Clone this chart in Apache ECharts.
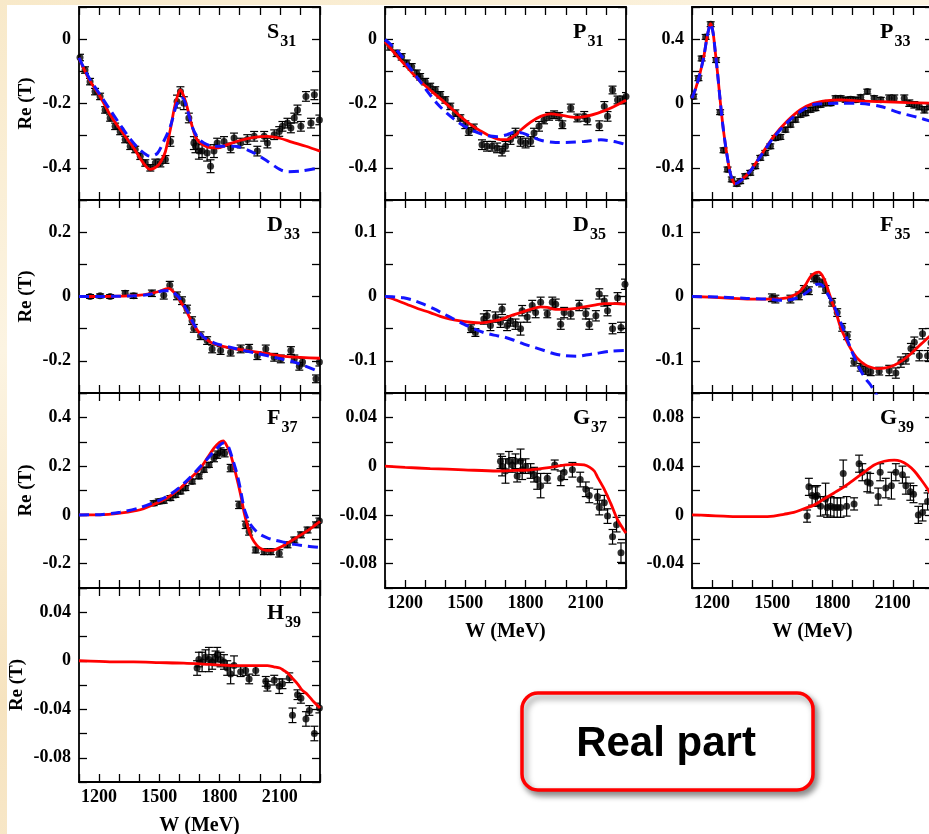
<!DOCTYPE html>
<html><head><meta charset="utf-8">
<script src="https://cdn.jsdelivr.net/npm/echarts@6/dist/echarts.min.js"></script>
<style>
html,body{margin:0;padding:0;}
body{width:929px;height:834px;overflow:hidden;position:relative;
 background:linear-gradient(160deg,#f8e9c9 0%,#fcf4e2 30%,#f6e3bf 60%,#fbf0da 100%);}
#sheet{position:absolute;left:7px;top:5px;right:0;bottom:0;background:#fff;}
#chart{position:absolute;left:0;top:0;width:929px;height:834px;}
</style></head><body><div id="sheet"></div><div id="chart"></div>
<script>
// ---------- tick labels ----------
const xTickLabels = ['1200','1500','1800','2100'];
const s31YLabels = ['0','-0.2','-0.4'];
const p31YLabels = ['0','-0.2','-0.4'];
const p33YLabels = ['0.4','0','-0.4'];
const d33YLabels = ['0.2','0','-0.2'];
const d35YLabels = ['0.1','0','-0.1'];
const f35YLabels = ['0.1','0','-0.1'];
const f37YLabels = ['0.4','0.2','0','-0.2'];
const g37YLabels = ['0.04','0','-0.04','-0.08'];
const g39YLabels = ['0.08','0.04','0','-0.04'];
const h39YLabels = ['0.04','0','-0.04','-0.08'];

// ---------- S31 ----------
const s31Red = [[1100,-0.058],[1150,-0.125],[1205,-0.178],[1255,-0.235],[1305,-0.281],[1372,-0.338],[1420,-0.385],[1455,-0.405],[1490,-0.395],[1510,-0.378],[1530,-0.35],[1555,-0.28],[1580,-0.2],[1605,-0.158],[1622,-0.178],[1640,-0.215],[1663,-0.27],[1688,-0.312],[1738,-0.335],[1788,-0.338],[1838,-0.328],[1900,-0.315],[1972,-0.305],[2038,-0.302],[2100,-0.308],[2160,-0.32],[2230,-0.333],[2300,-0.348]];
const s31Blue = [[1100,-0.058],[1150,-0.12],[1205,-0.173],[1255,-0.22],[1305,-0.266],[1355,-0.31],[1405,-0.345],[1455,-0.364],[1490,-0.355],[1520,-0.32],[1555,-0.271],[1580,-0.215],[1600,-0.185],[1615,-0.183],[1635,-0.21],[1663,-0.271],[1690,-0.305],[1720,-0.322],[1772,-0.333],[1872,-0.333],[1972,-0.354],[2040,-0.38],[2100,-0.405],[2138,-0.412],[2205,-0.41],[2300,-0.4]];
const s31Pts = [[1105,-0.057,0.01],[1130,-0.096,0.01],[1155,-0.132,0.01],[1180,-0.163,0.01],[1205,-0.178,0.01],[1230,-0.22,0.01],[1255,-0.245,0.01],[1280,-0.271,0.01],[1305,-0.287,0.01],[1330,-0.312,0.01],[1355,-0.333,0.01],[1380,-0.343,0.01],[1405,-0.364,0.01],[1430,-0.385,0.01],[1455,-0.4,0.01],[1480,-0.385,0.012],[1505,-0.385,0.012],[1530,-0.374,0.012],[1555,-0.318,0.015],[1588,-0.194,0.02],[1605,-0.163,0.015],[1622,-0.199,0.02],[1647,-0.245,0.015],[1672,-0.323,0.02],[1680,-0.333,0.02],[1697,-0.348,0.025],[1713,-0.348,0.02],[1738,-0.354,0.025],[1755,-0.395,0.02],[1772,-0.348,0.02],[1788,-0.323,0.015],[1822,-0.318,0.015],[1855,-0.338,0.015],[1872,-0.307,0.015],[1905,-0.323,0.015],[1938,-0.312,0.015],[1972,-0.302,0.015],[1988,-0.348,0.015],[2022,-0.302,0.015],[2038,-0.323,0.015],[2072,-0.297,0.015],[2097,-0.287,0.015],[2113,-0.271,0.015],[2138,-0.261,0.015],[2155,-0.276,0.015],[2172,-0.245,0.015],[2188,-0.22,0.015],[2205,-0.271,0.015],[2230,-0.178,0.015],[2255,-0.261,0.015],[2272,-0.173,0.015],[2297,-0.251,0.015]];

// ---------- P31 ----------
const p31Red = [[1100,-0.008],[1150,-0.045],[1208,-0.086],[1265,-0.125],[1325,-0.158],[1375,-0.185],[1425,-0.212],[1475,-0.24],[1525,-0.265],[1575,-0.285],[1625,-0.302],[1675,-0.312],[1710,-0.312],[1745,-0.3],[1775,-0.283],[1825,-0.258],[1875,-0.24],[1925,-0.232],[1990,-0.238],[2050,-0.243],[2100,-0.24],[2160,-0.23],[2225,-0.214],[2300,-0.19]];
const p31Blue = [[1100,-0.001],[1158,-0.034],[1208,-0.075],[1258,-0.117],[1308,-0.16],[1358,-0.199],[1408,-0.23],[1458,-0.255],[1508,-0.275],[1558,-0.29],[1610,-0.3],[1660,-0.303],[1708,-0.297],[1740,-0.29],[1770,-0.29],[1825,-0.302],[1880,-0.315],[1950,-0.321],[2000,-0.321],[2092,-0.318],[2175,-0.313],[2240,-0.318],[2300,-0.328]];
const p31Pts = [[1125,-0.024,0.01],[1158,-0.044,0.01],[1183,-0.055,0.01],[1208,-0.075,0.01],[1233,-0.086,0.01],[1258,-0.106,0.01],[1275,-0.117,0.01],[1300,-0.132,0.01],[1325,-0.147,0.01],[1350,-0.158,0.01],[1375,-0.173,0.01],[1400,-0.189,0.01],[1425,-0.209,0.01],[1450,-0.23,0.01],[1475,-0.245,0.01],[1500,-0.266,0.012],[1517,-0.287,0.012],[1542,-0.276,0.012],[1583,-0.328,0.015],[1608,-0.333,0.015],[1633,-0.333,0.015],[1658,-0.338,0.015],[1683,-0.348,0.015],[1700,-0.333,0.015],[1725,-0.312,0.015],[1750,-0.292,0.015],[1775,-0.318,0.015],[1800,-0.323,0.015],[1825,-0.318,0.015],[1842,-0.292,0.015],[1867,-0.271,0.015],[1892,-0.251,0.012],[1917,-0.24,0.012],[1942,-0.235,0.012],[1967,-0.24,0.012],[1983,-0.266,0.012],[2025,-0.214,0.012],[2058,-0.245,0.012],[2092,-0.24,0.015],[2108,-0.251,0.015],[2167,-0.269,0.015],[2192,-0.209,0.015],[2208,-0.24,0.015],[2233,-0.158,0.012],[2258,-0.189,0.012],[2283,-0.189,0.012],[2300,-0.178,0.012]];

// ---------- P33 ----------
const p33Red = [[1100,0.033],[1120,0.1],[1140,0.188],[1160,0.3],[1173,0.4],[1185,0.47],[1193,0.497],[1205,0.44],[1215,0.332],[1228,0.18],[1240,0.023],[1253,-0.13],[1265,-0.245],[1278,-0.35],[1290,-0.431],[1303,-0.48],[1315,-0.499],[1340,-0.483],[1390,-0.421],[1440,-0.328],[1507,-0.204],[1573,-0.111],[1640,-0.039],[1707,0.002],[1773,0.018],[1840,0.022],[1923,0.016],[2040,0.012],[2173,0.006],[2300,0.002]];
const p33Blue = [[1100,0.033],[1120,0.1],[1140,0.188],[1160,0.3],[1173,0.4],[1185,0.47],[1193,0.497],[1205,0.44],[1215,0.332],[1228,0.18],[1240,0.023],[1253,-0.13],[1265,-0.245],[1278,-0.35],[1290,-0.431],[1303,-0.48],[1315,-0.499],[1340,-0.483],[1390,-0.421],[1440,-0.33],[1507,-0.21],[1573,-0.12],[1640,-0.05],[1707,-0.006],[1773,0.0],[1840,0.002],[1940,0.0],[2040,-0.019],[2140,-0.06],[2220,-0.085],[2300,-0.115]];
const p33Pts = [[1107,0.043,0.015],[1132,0.157,0.015],[1148,0.28,0.015],[1168,0.414,0.015],[1193,0.493,0.015],[1220,0.27,0.015],[1240,-0.054,0.015],[1257,-0.291,0.015],[1277,-0.41,0.015],[1298,-0.472,0.015],[1323,-0.499,0.015],[1340,-0.483,0.015],[1365,-0.452,0.015],[1390,-0.431,0.015],[1415,-0.39,0.015],[1440,-0.338,0.015],[1465,-0.307,0.015],[1490,-0.266,0.015],[1515,-0.214,0.015],[1540,-0.208,0.015],[1565,-0.163,0.015],[1590,-0.132,0.015],[1615,-0.101,0.015],[1640,-0.07,0.015],[1665,-0.06,0.015],[1690,-0.039,0.015],[1715,-0.029,0.015],[1740,-0.008,0.015],[1765,0.002,0.015],[1790,0.002,0.015],[1815,0.033,0.015],[1840,0.033,0.015],[1865,0.023,0.015],[1890,0.027,0.015],[1915,0.023,0.015],[1940,0.039,0.015],[1973,0.074,0.015],[2007,0.033,0.015],[2040,0.023,0.015],[2082,0.033,0.02],[2107,0.033,0.02],[2157,0.033,0.02],[2182,0.002,0.02],[2207,-0.008,0.02],[2232,-0.019,0.02],[2257,-0.039,0.02],[2282,-0.019,0.02]];

// ---------- D33 ----------
const d33Red = [[1100,0],[1200,0],[1300,0.001],[1405,0.004],[1488,0.014],[1547,0.025],[1570,0.015],[1588,0.002],[1610,-0.02],[1630,-0.039],[1663,-0.08],[1705,-0.117],[1755,-0.142],[1838,-0.158],[1938,-0.168],[2038,-0.178],[2138,-0.187],[2300,-0.192]];
const d33Blue = [[1100,0],[1200,0],[1300,0.001],[1372,0.002],[1455,0.007],[1522,0.018],[1555,0.018],[1575,0.01],[1597,-0.003],[1638,-0.044],[1672,-0.086],[1713,-0.122],[1772,-0.144],[1872,-0.161],[1972,-0.175],[2072,-0.189],[2172,-0.204],[2280,-0.23]];
const d33Pts = [[1155,0,0.006],[1205,0.002,0.006],[1255,0,0.006],[1330,0.01,0.008],[1372,0.002,0.008],[1463,0.01,0.01],[1522,0.004,0.012],[1552,0.035,0.012],[1588,0.002,0.012],[1613,-0.013,0.012],[1638,-0.039,0.012],[1663,-0.075,0.012],[1672,-0.099,0.012],[1705,-0.122,0.012],[1738,-0.137,0.012],[1763,-0.163,0.012],[1805,-0.168,0.012],[1855,-0.173,0.012],[1905,-0.163,0.012],[1947,-0.161,0.012],[1988,-0.184,0.012],[2030,-0.163,0.012],[2072,-0.189,0.012],[2105,-0.194,0.012],[2155,-0.168,0.012],[2172,-0.194,0.012],[2197,-0.217,0.012],[2213,-0.204,0.012],[2280,-0.256,0.012],[2297,-0.204,0.012]];

// ---------- D35 ----------
const d35Red = [[1100,0],[1150,-0.005],[1208,-0.012],[1265,-0.019],[1325,-0.025],[1375,-0.031],[1425,-0.035],[1475,-0.038],[1525,-0.04],[1575,-0.041],[1625,-0.039],[1675,-0.036],[1725,-0.03],[1775,-0.025],[1825,-0.02],[1875,-0.016],[1908,-0.017],[1950,-0.02],[1992,-0.02],[2040,-0.019],[2092,-0.016],[2150,-0.013],[2192,-0.011],[2250,-0.011],[2300,-0.012]];
const d35Blue = [[1100,0],[1158,-0.001],[1192,-0.002],[1242,-0.006],[1292,-0.012],[1342,-0.019],[1392,-0.027],[1442,-0.035],[1492,-0.043],[1542,-0.05],[1592,-0.056],[1642,-0.06],[1692,-0.063],[1742,-0.068],[1792,-0.074],[1842,-0.079],[1892,-0.084],[1942,-0.089],[1992,-0.092],[2058,-0.093],[2100,-0.091],[2142,-0.089],[2225,-0.085],[2300,-0.084]];
const d35Pts = [[1528,-0.05,0.006],[1550,-0.056,0.006],[1592,-0.035,0.008],[1608,-0.03,0.008],[1625,-0.045,0.008],[1650,-0.032,0.008],[1675,-0.04,0.008],[1683,-0.02,0.008],[1708,-0.045,0.008],[1725,-0.038,0.008],[1750,-0.043,0.008],[1775,-0.05,0.01],[1783,-0.022,0.008],[1808,-0.032,0.008],[1833,-0.014,0.008],[1850,-0.025,0.008],[1875,-0.009,0.008],[1908,-0.027,0.006],[1933,-0.009,0.008],[1950,-0.012,0.008],[1975,-0.043,0.008],[1992,-0.025,0.008],[2025,-0.027,0.008],[2067,-0.014,0.008],[2100,-0.027,0.008],[2117,-0.043,0.008],[2150,-0.03,0.008],[2167,0.004,0.008],[2192,-0.007,0.008],[2208,-0.022,0.008],[2233,-0.05,0.008],[2258,-0.002,0.008],[2275,-0.048,0.008],[2295,0.019,0.008]];

// ---------- F35 ----------
const f35Red = [[1100,0],[1257,-0.002],[1390,-0.004],[1490,-0.004],[1573,-0.002],[1615,0.003],[1640,0.009],[1665,0.018],[1690,0.031],[1715,0.037],[1732,0.038],[1750,0.032],[1765,0.022],[1780,0.008],[1798,-0.009],[1820,-0.028],[1840,-0.048],[1865,-0.066],[1890,-0.081],[1920,-0.095],[1957,-0.105],[1990,-0.11],[2023,-0.112],[2065,-0.111],[2107,-0.107],[2150,-0.099],[2190,-0.089],[2240,-0.074],[2300,-0.057]];
const f35Blue = [[1100,0],[1250,-0.001],[1373,-0.003],[1473,-0.004],[1557,-0.006],[1590,-0.005],[1623,-0.002],[1660,0.004],[1690,0.011],[1723,0.019],[1740,0.019],[1757,0.014],[1775,0.004],[1790,-0.004],[1815,-0.02],[1840,-0.04],[1865,-0.06],[1890,-0.081],[1915,-0.099],[1940,-0.115],[1965,-0.128],[1990,-0.138],[2015,-0.151],[2040,-0.165],[2060,-0.18]];
const f35Pts = [[1498,-0.002,0.006],[1515,-0.004,0.006],[1590,-0.004,0.006],[1632,0.001,0.006],[1657,0.011,0.006],[1682,0.009,0.006],[1707,0.029,0.006],[1723,0.027,0.006],[1748,0.021,0.006],[1765,0.011,0.006],[1798,-0.009,0.006],[1823,-0.025,0.006],[1848,-0.048,0.006],[1873,-0.061,0.006],[1907,-0.102,0.006],[1940,-0.11,0.006],[1965,-0.115,0.006],[1990,-0.117,0.006],[2032,-0.116,0.006],[2082,-0.115,0.008],[2115,-0.119,0.008],[2140,-0.102,0.008],[2165,-0.097,0.008],[2190,-0.081,0.008],[2207,-0.071,0.008],[2232,-0.092,0.008],[2248,-0.058,0.008],[2273,-0.092,0.008],[2290,-0.072,0.008]];

// ---------- F37 ----------
const f37Red = [[1100,0],[1205,0],[1305,0.007],[1405,0.021],[1505,0.055],[1555,0.078],[1605,0.11],[1655,0.15],[1705,0.192],[1740,0.235],[1772,0.274],[1800,0.298],[1818,0.304],[1835,0.285],[1855,0.247],[1880,0.17],[1905,0.082],[1922,0.01],[1938,-0.041],[1955,-0.085],[1972,-0.11],[1995,-0.133],[2022,-0.144],[2050,-0.146],[2072,-0.144],[2105,-0.132],[2138,-0.116],[2170,-0.1],[2205,-0.082],[2255,-0.055],[2300,-0.027]];
const f37Blue = [[1100,0],[1205,0.001],[1305,0.011],[1405,0.03],[1505,0.062],[1555,0.085],[1605,0.116],[1655,0.155],[1705,0.199],[1750,0.24],[1788,0.274],[1818,0.295],[1835,0.29],[1847,0.274],[1868,0.22],[1888,0.164],[1905,0.1],[1922,0.027],[1940,-0.015],[1955,-0.041],[1980,-0.065],[2005,-0.082],[2040,-0.095],[2072,-0.103],[2120,-0.112],[2172,-0.121],[2240,-0.129],[2300,-0.134]];
const f37Pts = [[1472,0.048,0.01],[1497,0.055,0.01],[1522,0.058,0.01],[1555,0.069,0.01],[1580,0.082,0.01],[1605,0.096,0.01],[1630,0.11,0.01],[1663,0.137,0.01],[1697,0.158,0.01],[1722,0.185,0.01],[1747,0.205,0.01],[1772,0.233,0.015],[1788,0.247,0.015],[1805,0.26,0.015],[1825,0.253,0.015],[1855,0.192,0.015],[1897,0.041,0.015],[1930,-0.041,0.015],[1947,-0.068,0.015],[1980,-0.144,0.012],[2022,-0.151,0.012],[2055,-0.151,0.012],[2097,-0.158,0.015],[2138,-0.123,0.012],[2172,-0.103,0.012],[2205,-0.082,0.012],[2238,-0.062,0.012],[2280,-0.041,0.012],[2297,-0.025,0.012]];

// ---------- G37 ----------
const g37Red = [[1100,0],[1200,-0.001],[1325,-0.002],[1492,-0.003],[1658,-0.004],[1750,-0.0035],[1825,-0.003],[1925,-0.001],[2000,0.001],[2050,0.0015],[2092,0.001],[2120,-0.001],[2142,-0.004],[2158,-0.009],[2192,-0.019],[2225,-0.031],[2258,-0.044],[2300,-0.055]];
const g37Pts = [[1675,0.004,0.006],[1683,0,0.008],[1700,-0.004,0.01],[1717,0.004,0.008],[1733,0.001,0.006],[1750,0.004,0.006],[1758,-0.008,0.005],[1775,0.004,0.01],[1783,-0.003,0.008],[1800,0,0.006],[1825,-0.004,0.006],[1842,-0.007,0.006],[1858,-0.011,0.008],[1875,-0.016,0.01],[1908,-0.01,0.004],[1945,0.001,0.004],[1975,-0.01,0.006],[1992,-0.005,0.006],[2033,-0.003,0.006],[2072,-0.011,0.006],[2100,-0.019,0.006],[2117,-0.024,0.006],[2158,-0.025,0.006],[2167,-0.034,0.006],[2192,-0.03,0.006],[2208,-0.041,0.006],[2233,-0.058,0.006],[2253,-0.048,0.006],[2275,-0.071,0.008]];

// ---------- G39 ----------
const g39Red = [[1100,0],[1180,-0.0005],[1257,-0.001],[1320,-0.0015],[1373,-0.0015],[1440,-0.0015],[1507,-0.001],[1557,0.0005],[1607,0.002],[1657,0.005],[1707,0.008],[1757,0.013],[1807,0.018],[1857,0.023],[1907,0.029],[1957,0.035],[2007,0.041],[2057,0.044],[2107,0.045],[2140,0.044],[2173,0.041],[2207,0.036],[2240,0.029],[2270,0.022],[2300,0.014]];
const g39Pts = [[1673,-0.001,0.005],[1682,0.023,0.007],[1698,0.016,0.008],[1715,0.015,0.008],[1723,0.016,0.008],[1740,0.007,0.008],[1765,0.013,0.013],[1773,0.006,0.008],[1790,0.007,0.008],[1807,0.006,0.008],[1823,0.006,0.008],[1840,0.006,0.008],[1853,0.034,0.011],[1870,0.007,0.008],[1907,0.009,0.005],[1932,0.042,0.007],[1948,0.035,0.007],[1973,0.027,0.008],[1987,0.026,0.008],[2027,0.015,0.007],[2037,0.035,0.007],[2065,0.022,0.008],[2093,0.024,0.011],[2115,0.035,0.007],[2148,0.033,0.007],[2165,0.024,0.007],[2187,0.019,0.007],[2203,0.017,0.007],[2227,0,0.007],[2248,0.002,0.007],[2273,0.011,0.007]];

// ---------- H39 ----------
const h39Red = [[1100,0],[1200,-0.0005],[1300,-0.001],[1372,-0.001],[1500,-0.0015],[1622,-0.002],[1750,-0.003],[1872,-0.004],[1960,-0.004],[2038,-0.004],[2070,-0.005],[2100,-0.006],[2120,-0.008],[2138,-0.01],[2160,-0.014],[2188,-0.019],[2210,-0.024],[2238,-0.028],[2270,-0.034],[2300,-0.039]];
const h39Pts = [[1688,-0.006,0.006],[1697,0.001,0.006],[1713,-0.001,0.008],[1730,0.003,0.006],[1747,0.001,0.01],[1763,-0.001,0.006],[1780,0.002,0.006],[1788,0.005,0.006],[1805,0.001,0.006],[1822,-0.001,0.006],[1838,-0.006,0.006],[1855,-0.011,0.008],[1872,-0.004,0.008],[1905,-0.009,0.004],[1930,-0.008,0.004],[1947,-0.015,0.004],[1980,-0.008,0.004],[2030,-0.017,0.004],[2038,-0.021,0.004],[2072,-0.016,0.004],[2097,-0.021,0.006],[2113,-0.019,0.004],[2147,-0.014,0.004],[2163,-0.045,0.006],[2188,-0.028,0.004],[2205,-0.031,0.004],[2230,-0.048,0.006],[2247,-0.041,0.004],[2272,-0.06,0.006],[2297,-0.039,0.004]];

// ---------- layout ----------
const colLeft = [79, 385, 692];
const colW = 241;
const rowTop = [7, 200, 393, 588];
const rowH = [193, 193, 195, 194];

const panels = [
 {m:'S', s:'31', c:0, r:0, yMin:-0.5, yMax:0.1, yStep:0.1, yl:s31YLabels, red:s31Red, blue:s31Blue, pts:s31Pts, xl:false, yname:true},
 {m:'P', s:'31', c:1, r:0, yMin:-0.5, yMax:0.1, yStep:0.1, yl:p31YLabels, red:p31Red, blue:p31Blue, pts:p31Pts, xl:false},
 {m:'P', s:'33', c:2, r:0, yMin:-0.6, yMax:0.6, yStep:0.2, yl:p33YLabels, red:p33Red, blue:p33Blue, pts:p33Pts, xl:false},
 {m:'D', s:'33', c:0, r:1, yMin:-0.3, yMax:0.3, yStep:0.1, yl:d33YLabels, red:d33Red, blue:d33Blue, pts:d33Pts, xl:false, yname:true},
 {m:'D', s:'35', c:1, r:1, yMin:-0.15, yMax:0.15, yStep:0.05, yl:d35YLabels, red:d35Red, blue:d35Blue, pts:d35Pts, xl:false},
 {m:'F', s:'35', c:2, r:1, yMin:-0.15, yMax:0.15, yStep:0.05, yl:f35YLabels, red:f35Red, blue:f35Blue, pts:f35Pts, xl:false},
 {m:'F', s:'37', c:0, r:2, yMin:-0.3, yMax:0.5, yStep:0.1, yl:f37YLabels, red:f37Red, blue:f37Blue, pts:f37Pts, xl:false, yname:true},
 {m:'G', s:'37', c:1, r:2, yMin:-0.1, yMax:0.06, yStep:0.02, yl:g37YLabels, red:g37Red, blue:null, pts:g37Pts, xl:true},
 {m:'G', s:'39', c:2, r:2, yMin:-0.06, yMax:0.1, yStep:0.02, yl:g39YLabels, red:g39Red, blue:null, pts:g39Pts, xl:true},
 {m:'H', s:'39', c:0, r:3, yMin:-0.1, yMax:0.06, yStep:0.02, yl:h39YLabels, red:h39Red, blue:null, pts:h39Pts, xl:true, yname:true, ygap:52}
];

const SERIF = 'Liberation Serif';
function fmt(labels){
  return function(v){
    const m = labels.find(s => Math.abs(parseFloat(s) - v) < 1e-7);
    return m === undefined ? '' : m;
  };
}
const lineAx = {show:true, onZero:false, lineStyle:{color:'#000', width:1.8}};
const tickAx = {show:true, inside:true, length:8, lineStyle:{color:'#000', width:1.3}};
const labTxt = {color:'#000', fontFamily:SERIF, fontWeight:'bold', fontSize:18};
const nameTxt = {color:'#000', fontFamily:SERIF, fontWeight:'bold', fontSize:19};

function errRender(params, api){
  const x = api.value(0), y = api.value(1), e = api.value(2);
  const a = api.coord([x, y + e]), b = api.coord([x, y - e]);
  const hw = 4;
  const st = {stroke:'#000', lineWidth:1.2};
  return {type:'group', children:[
    {type:'line', shape:{x1:a[0], y1:a[1], x2:b[0], y2:b[1]}, style:st},
    {type:'line', shape:{x1:a[0]-hw, y1:a[1], x2:a[0]+hw, y2:a[1]}, style:st},
    {type:'line', shape:{x1:b[0]-hw, y1:b[1], x2:b[0]+hw, y2:b[1]}, style:st}
  ]};
}

const cv = document.createElement('canvas').getContext('2d');
const grid = [], xAxis = [], yAxis = [], series = [], graphic = [];
panels.forEach((p, i) => {
  const L = colLeft[p.c], T = rowTop[p.r], H = rowH[p.r];
  grid.push({left:L, top:T, width:colW, height:H, outerBoundsMode:'none', containLabel:false});
  xAxis.push({type:'value', gridIndex:i, min:1100, max:2300, interval:100, position:'bottom',
    axisLine:lineAx, axisTick:tickAx, splitLine:{show:false},
    axisLabel:Object.assign({show:p.xl, formatter:fmt(xTickLabels), margin:6, hideOverlap:false}, labTxt),
    name: p.xl ? 'W (MeV)' : '', nameLocation:'middle', nameGap:34,
    nameTextStyle:Object.assign({}, nameTxt, {fontSize:20})});
  xAxis.push({type:'value', gridIndex:i, min:1100, max:2300, interval:100, position:'top',
    axisLine:lineAx, axisTick:tickAx, splitLine:{show:false}, axisLabel:{show:false}});
  yAxis.push({type:'value', gridIndex:i, min:p.yMin, max:p.yMax, interval:p.yStep, position:'left',
    axisLine:lineAx, axisTick:tickAx, splitLine:{show:false},
    axisLabel:Object.assign({show:true, formatter:fmt(p.yl), margin:8, hideOverlap:false}, labTxt),
    name: p.yname ? 'Re (T)' : '', nameLocation:'middle', nameRotate:90, nameGap: p.ygap || 43,
    nameTextStyle:nameTxt});
  yAxis.push({type:'value', gridIndex:i, min:p.yMin, max:p.yMax, interval:p.yStep, position:'right',
    axisLine:lineAx, axisTick:tickAx, splitLine:{show:false}, axisLabel:{show:false}});
  const xi = 2*i, yi = 2*i;
  series.push({type:'custom', xAxisIndex:xi, yAxisIndex:yi, renderItem:errRender, data:p.pts,
    encode:{x:0, y:1}, z:2, clip:true, silent:true});
  series.push({type:'scatter', xAxisIndex:xi, yAxisIndex:yi, data:p.pts.map(d => [d[0], d[1]]),
    symbol:'circle', symbolSize:7, itemStyle:{color:'#000'}, z:3, silent:true});
  series.push({type:'line', xAxisIndex:xi, yAxisIndex:yi, data:p.red, showSymbol:false, symbol:'none',
    smooth:0.3, lineStyle:{color:'#ff0000', width:2.8}, z:4, clip:true, silent:true});
  if (p.blue) series.push({type:'line', xAxisIndex:xi, yAxisIndex:yi, data:p.blue, showSymbol:false, symbol:'none',
    smooth:0.3, lineStyle:{color:'#1414ff', width:3, type:[10,6]}, z:5, clip:true, silent:true});
  // panel label
  const mf = 'bold 22px "' + SERIF + '"';
  cv.font = mf;
  const mw = cv.measureText(p.m).width;
  const lx = L + 188;
  graphic.push({type:'text', x:lx, y:T + 14, z:100, style:{text:p.m, font:mf, fill:'#000', verticalAlign:'top', align:'left'}});
  graphic.push({type:'text', x:lx + mw + 1, y:T + 27, z:100, style:{text:p.s, font:'bold 16px "' + SERIF + '"', fill:'#000', verticalAlign:'top', align:'left'}});
});

// "Real part" box
graphic.push({type:'group', z:100, children:[
  {type:'rect', shape:{x:522, y:693, width:291, height:97, r:16},
   style:{fill:'#fff', stroke:'#ff0000', lineWidth:3.5, shadowBlur:6, shadowOffsetX:3, shadowOffsetY:4, shadowColor:'rgba(0,0,0,0.45)'}},
  {type:'text', x:666, y:744, style:{text:'Real part', font:'bold 42px "Liberation Sans"', fill:'#000', align:'center', verticalAlign:'middle'}}
]});

const chart = echarts.init(document.getElementById('chart'), null, {renderer:'canvas'});
chart.setOption({
  animation:false,
  backgroundColor:'transparent',
  grid, xAxis, yAxis, series, graphic
});
</script></body></html>
